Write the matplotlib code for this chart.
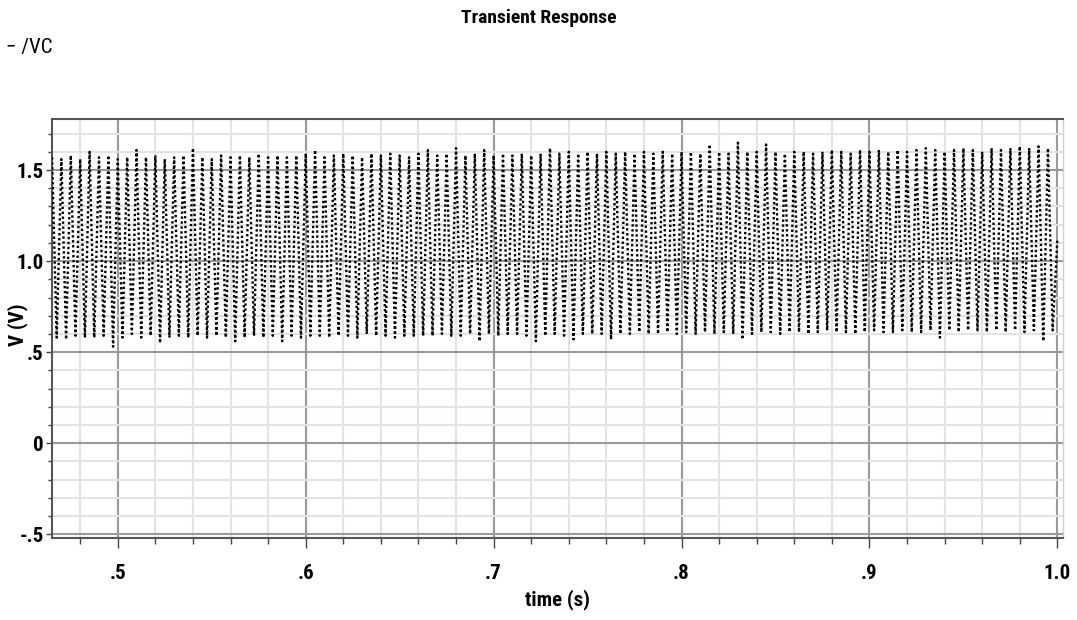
import numpy as np
import matplotlib
matplotlib.use("Agg")
import matplotlib.pyplot as plt
from matplotlib import font_manager
from matplotlib.ticker import MultipleLocator, FixedLocator

# ---------------- data ----------------
t_start = 0.465          # first sample of the visible window (s)
period = 0.005           # oscillation period (s)
t_end = 1.0
end_value = 1.12

peaks = [1.57, 1.56, 1.58, 1.56, 1.60, 1.57, 1.58, 1.56, 1.57, 1.61,
         1.57, 1.58, 1.56, 1.57, 1.58, 1.62, 1.57, 1.56, 1.58, 1.57,
         1.58, 1.57, 1.59, 1.57, 1.58, 1.57, 1.58, 1.59, 1.61, 1.57,
         1.58, 1.59, 1.58, 1.57, 1.59, 1.58, 1.59, 1.58, 1.57, 1.59,
         1.61, 1.58, 1.59, 1.62, 1.58, 1.59, 1.61, 1.58, 1.59, 1.58,
         1.59, 1.58, 1.59, 1.62, 1.59, 1.60, 1.59, 1.60, 1.59, 1.60,
         1.59, 1.60, 1.59, 1.60, 1.59, 1.60, 1.59, 1.60, 1.60, 1.59,
         1.64, 1.60, 1.59, 1.65, 1.60, 1.60, 1.64, 1.60, 1.59, 1.60,
         1.60, 1.59, 1.60, 1.61, 1.60, 1.59, 1.61, 1.60, 1.61, 1.60,
         1.61, 1.60, 1.61, 1.62, 1.61, 1.60, 1.61, 1.62, 1.61, 1.60,
         1.62, 1.61, 1.62, 1.63, 1.62, 1.63, 1.62]

troughs = [0.58, 0.57, 0.59, 0.58, 0.58, 0.59, 0.53, 0.58, 0.60, 0.58,
           0.59, 0.55, 0.58, 0.59, 0.58, 0.59, 0.58, 0.59, 0.58, 0.56,
           0.58, 0.59, 0.58, 0.59, 0.56, 0.59, 0.58, 0.59, 0.59, 0.58,
           0.59, 0.59, 0.58, 0.60, 0.59, 0.59, 0.58, 0.59, 0.59, 0.59,
           0.59, 0.60, 0.59, 0.59, 0.60, 0.56, 0.60, 0.59, 0.60, 0.60,
           0.59, 0.56, 0.59, 0.60, 0.59, 0.57, 0.60, 0.60, 0.60, 0.57,
           0.60, 0.60, 0.61, 0.60, 0.60, 0.61, 0.60, 0.61, 0.60, 0.61,
           0.60, 0.61, 0.60, 0.57, 0.60, 0.61, 0.61, 0.60, 0.61, 0.61,
           0.60, 0.61, 0.62, 0.61, 0.61, 0.60, 0.61, 0.62, 0.61, 0.61,
           0.62, 0.61, 0.61, 0.62, 0.58, 0.62, 0.61, 0.62, 0.62, 0.61,
           0.62, 0.61, 0.62, 0.61, 0.62, 0.56, 0.62]

x_major = [0.5, 0.6, 0.7, 0.8, 0.9, 1.0]
x_labels = [".5", ".6", ".7", ".8", ".9", "1.0"]
y_major = [-0.5, 0.0, 0.5, 1.0, 1.5]
y_labels = ["-.5", "0", ".5", "1.0", "1.5"]

title = "Transient Response"
legend_text = "\u2212 /VC"
xlabel = "time (s)"
ylabel = "V (V)"

# ---------------- build waveform from peak/trough values ----------------
n = len(peaks)
t_pts, v_pts = [], []
for i in range(n):
    tp = t_start + i * period
    tt = tp + period / 2
    if tp <= t_end:
        t_pts.append(tp); v_pts.append(peaks[i])
    if tt <= t_end:
        t_pts.append(tt); v_pts.append(troughs[i])
t_pts.append(t_end); v_pts.append(end_value)

# ---------------- fonts ----------------
def have(name):
    try:
        font_manager.findfont(font_manager.FontProperties(family=name),
                              fallback_to_default=False)
        return True
    except Exception:
        return False

fam = []
for f in ["Liberation Sans Narrow", "Roboto Condensed", "Open Sans Condensed",
          "Liberation Sans", "DejaVu Sans"]:
    if have(f):
        fam.append(f)
if "DejaVu Sans" not in fam:
    fam.append("DejaVu Sans")
plt.rcParams["font.family"] = fam

# ---------------- figure ----------------
fig = plt.figure(figsize=(10.77, 6.2), dpi=100)
ax = fig.add_axes([52 / 1077, 1 - 538 / 620, (1063 - 52) / 1077, (538 - 119) / 620])

ax.plot(t_pts, v_pts, color="black", linewidth=1.7,
        linestyle=(0, (1.0, 1.1)), zorder=3)

ax.set_xlim(0.465, 1.003)
ax.set_ylim(-0.52, 1.78)

ax.xaxis.set_major_locator(FixedLocator(x_major))
ax.set_xticklabels(x_labels)
ax.xaxis.set_minor_locator(MultipleLocator(0.02))
ax.yaxis.set_major_locator(FixedLocator(y_major))
ax.set_yticklabels(y_labels)
ax.yaxis.set_minor_locator(MultipleLocator(0.1))

ax.grid(which="minor", color="#e3e3e3", linewidth=1.5, zorder=0)
ax.grid(which="major", color="#9a9a9a", linewidth=1.5, zorder=1)
ax.set_axisbelow(True)

for s in ["top", "left", "bottom"]:
    ax.spines[s].set_color("#555555")
    ax.spines[s].set_linewidth(1.5)
ax.spines["right"].set_color("#cfcfcf")
ax.spines["right"].set_linewidth(1.0)

ax.tick_params(axis="y", which="major", length=4, width=1.0, color="#444444",
               labelsize=15, pad=2)
ax.tick_params(axis="y", which="minor", length=3, width=1.0, color="#444444")
ax.tick_params(axis="x", which="major", length=7, width=1.0, color="#444444",
               labelsize=15, pad=12)
ax.tick_params(axis="x", which="minor", length=4, width=1.0, color="#444444")
for lab in ax.get_xticklabels() + ax.get_yticklabels():
    lab.set_fontweight("bold")

ax.set_xlabel(xlabel, fontsize=15, fontweight="bold", labelpad=4)
fig.text(18 / 1077, 1 - 325 / 620, ylabel, rotation=90, ha="center",
         va="center", fontsize=15, fontweight="bold")

fig.text(0.5, 1 - 18 / 620, title, ha="center", va="center",
         fontsize=14, fontweight="bold")
fig.text(6 / 1077, 1 - 47 / 620, legend_text, ha="left", va="center",
         fontsize=15)

fig.savefig("out.png", dpi=100, facecolor="white")
